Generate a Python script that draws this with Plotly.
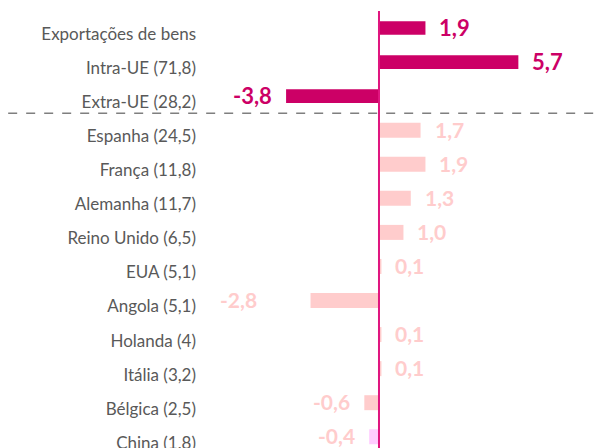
import plotly.graph_objects as go

categories = ["Exportações de bens", "Intra-UE (71,8)", "Extra-UE (28,2)",
              "Espanha (24,5)", "França (11,8)", "Alemanha (11,7)", "Reino Unido (6,5)",
              "EUA (5,1)", "Angola (5,1)", "Holanda (4)", "Itália (3,2)",
              "Bélgica (2,5)", "China (1,8)"]
values = [1.9, 5.7, -3.8, 1.7, 1.9, 1.3, 1.0, 0.1, -2.8, 0.1, 0.1, -0.6, -0.4]
groups = ["total", "total", "total", "pais", "pais", "pais", "pais",
          "pais", "pais", "pais", "pais", "pais", "china"]

DARK = "#CC0066"
LIGHT = "#FFCCCC"
VIOLET = "#FFCCFF"
AXIS = "#E0157F"
GRAY = "#595959"
FONT = "Lato"

bar_color = {"total": DARK, "pais": LIGHT, "china": VIOLET}
label_color = {"total": DARK, "pais": LIGHT, "china": LIGHT}
bar_width = {"total": 0.40, "pais": 0.44, "china": 0.44}

fig = go.Figure()
fig.add_trace(go.Bar(
    y=categories, x=values, orientation="h",
    marker=dict(color=[bar_color[g] for g in groups], line=dict(width=0)),
    width=[bar_width[g] for g in groups],
    hoverinfo="skip",
))

def fmt(v):
    return f"{v:.1f}".replace(".", ",")

for cat, v, g in zip(categories, values, groups):
    shift = 12 if v >= 0 else -12
    if cat.startswith("Angola"):
        shift = -52
    fig.add_annotation(
        x=v, y=cat, xref="x", yref="y", text=fmt(v), showarrow=False,
        xanchor="left" if v >= 0 else "right", xshift=shift, yshift=1,
        font=dict(family=FONT, size=22 if g == "total" else 21,
                  color=label_color[g], weight="bold"),
    )

# dashed separator between totals and countries
fig.add_shape(type="line", xref="paper", yref="y", x0=-0.487, x1=1,
              y0=2.5, y1=2.5, line=dict(color="#7F7F7F", width=1.5, dash="dash"))
# vertical zero axis
fig.add_shape(type="line", xref="x", yref="paper", x0=0, x1=0, y0=0, y1=1,
              line=dict(color=AXIS, width=2), layer="above")

fig.update_layout(
    width=600, height=448,
    margin=dict(l=202, r=0, t=11, b=0, autoexpand=False),
    paper_bgcolor="white", plot_bgcolor="white",
    showlegend=False,
    bargap=0.5,
    xaxis=dict(range=[-7.239, 9.039], visible=False, showgrid=False,
               zeroline=False, automargin=False),
    yaxis=dict(categoryorder="array", categoryarray=categories,
               range=[12.33, -0.5], showgrid=False, zeroline=False,
               showline=False, ticks="", ticklabelshift=-6, ticklabelstandoff=5,
               automargin=False,
               tickfont=dict(family=FONT, size=17, color=GRAY)),
)

fig.write_html("out.html", config={"displayModeBar": False},
               post_script="document.body.style.margin='0';document.body.style.overflow='hidden';")
